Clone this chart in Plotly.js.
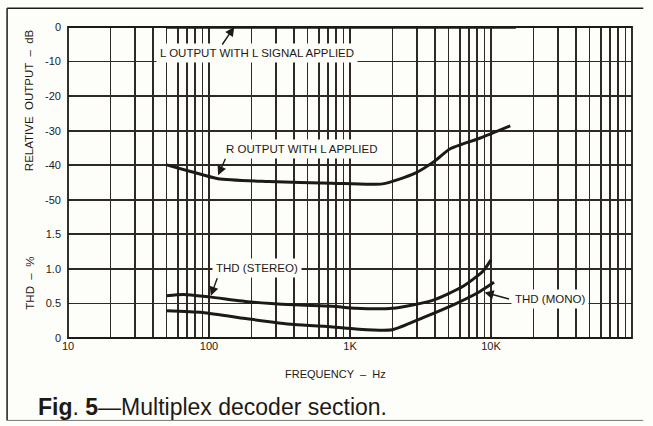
<!DOCTYPE html>
<html>
<head>
<meta charset="utf-8">
<script src="https://cdn.plot.ly/plotly-3.0.1.min.js"></script>
<style>
html,body{margin:0;padding:0;background:#fdfdf9;}
#chart{width:653px;height:426px;}
</style>
</head>
<body>
<div id="chart"></div>
<script>
// ---- data ----
const gridFreqs = [10,20,30,40,50,60,70,80,90,100,200,300,400,500,600,700,800,900,
  1000,2000,3000,4000,5000,6000,7000,8000,9000,10000,20000,30000,40000,50000,60000,70000,80000,90000,100000];
const freqLabels = {10:'10',100:'100',1000:'1K',10000:'10K'};

const dbTickVals = [-50,-40,-30,-20,-10,0];
const dbTickText = ['-50','-40','-30','-20','-10','0'];
const thdTickVals = [0,0.5,1.0,1.5];
const thdTickText = ['0','0.5','1.0','1.5'];

// L output with L signal applied (dB)
const lOutFreq = [50, 15000];
const lOutDb   = [0, 0];

// R output with L applied (dB)
const rOutFreq = [50, 74, 116, 264, 744, 1700, 2900, 4050, 5100, 8300, 13700];
const rOutDb   = [-39.9, -41.8, -43.9, -44.7, -45.2, -45.4, -42.3, -38.6, -35.3, -32.2, -28.6];

// THD (stereo) %
const thdStFreq = [50, 66, 100, 200, 400, 750, 1100, 2000, 3850, 6300, 8800, 10000];
const thdSt     = [0.61, 0.63, 0.595, 0.52, 0.48, 0.46, 0.43, 0.43, 0.545, 0.745, 0.97, 1.13];

// THD (mono) %
const thdMoFreq = [50, 90, 200, 400, 750, 1100, 2000, 3300, 5600, 8300, 10500];
const thdMo     = [0.395, 0.37, 0.27, 0.195, 0.16, 0.13, 0.12, 0.295, 0.495, 0.67, 0.805];

// ---- styling ----
const INK = '#1d1a16';
const GRID = '#2e2a23';
const BG = '#fdfdf9';
const FONT = 'Liberation Sans, Arial, Helvetica, sans-serif';

const curve = (x, y, yaxis) => ({
  x: x, y: y, yaxis: yaxis, type: 'scatter', mode: 'lines',
  line: {color: INK, width: 3, shape: 'spline', smoothing: 0.6},
  cliponaxis: false, hoverinfo: 'skip', showlegend: false
});

const traces = [
  Object.assign(curve(lOutFreq, lOutDb, 'y2'), {line: {color: INK, width: 3.5}}),
  curve(rOutFreq, rOutDb, 'y2'),
  curve(thdStFreq, thdSt, 'y'),
  curve(thdMoFreq, thdMo, 'y')
];

const lg = Math.log10;
const labelFont = {family: FONT, size: 11.5, color: INK};

function label(text, xf, y, yref) {
  return {text: text, x: lg(xf), y: y, xref: 'x', yref: yref, showarrow: false,
    font: labelFont, bgcolor: BG, borderpad: 3, xanchor: 'center', yanchor: 'middle'};
}
function arrow(xf, y, yref, ax, ay) {
  return {text: '', x: lg(xf), y: y, xref: 'x', yref: yref, showarrow: true,
    ax: ax, ay: ay, arrowhead: 2, arrowsize: 1.3, arrowwidth: 1.4, arrowcolor: INK, standoff: 0};
}
function paperText(text, x, y, size, extra) {
  return Object.assign({text: text, xref: 'paper', yref: 'paper', x: x, y: y,
    xanchor: 'center', yanchor: 'middle', showarrow: false,
    font: {family: FONT, size: size, color: INK}}, extra || {});
}

const annotations = [
  label('L OUTPUT WITH L SIGNAL APPLIED', 220, -7.5, 'y2'),
  label('R OUTPUT WITH L APPLIED', 454, -35.3, 'y2'),
  label('THD (STEREO)', 220, 1.02, 'y'),
  label('THD (MONO)', 26300, 0.57, 'y'),
  arrow(151, 0, 'y2', -13, 19),
  arrow(116, -42.9, 'y2', 8, -18),
  arrow(103, 0.61, 'y', 7, -19),
  arrow(9000, 0.66, 'y', 26, 7),
  // axis titles
  paperText('RELATIVE  OUTPUT  –  dB', -0.069, 0.765, 11.5, {textangle: -90}),
  paperText('THD  –  %', -0.069, 0.175, 11.5, {textangle: -90}),
  paperText('FREQUENCY  –  Hz', 0.475, -0.116, 11),
  paperText('<b>Fig</b>. <b>5</b>—Multiplex decoder section.', -0.057, -0.222, 23, {xanchor: 'left'})
];

const shapes = [
  {type: 'line', xref: 'paper', yref: 'paper', x0: -0.108, x1: 1.02, y0: 1.06, y1: 1.06,
   line: {color: INK, width: 1.5}},
  {type: 'line', xref: 'paper', yref: 'paper', x0: -0.108, x1: -0.108, y0: 1.06, y1: -0.265,
   line: {color: INK, width: 1.5}},
  {type: 'line', xref: 'paper', yref: 'paper', x0: -0.108, x1: 1.02, y0: -0.265, y1: -0.265,
   line: {color: '#777', width: 1}},
  {type: 'rect', xref: 'paper', yref: 'paper', x0: 0, x1: 1, y0: 0, y1: 1,
   line: {color: INK, width: 1.8}}
];

const axisCommon = {
  showgrid: true, gridcolor: GRID, gridwidth: 1.8,
  zeroline: false, showline: false, ticks: '',
  tickfont: {family: FONT, size: 11, color: INK}
};

const layout = {
  width: 653, height: 426,
  margin: {l: 68, r: 21, t: 27, b: 88},
  paper_bgcolor: BG, plot_bgcolor: BG,
  font: {family: FONT, size: 11, color: INK},
  showlegend: false,
  xaxis: Object.assign({
    type: 'log', range: [1, 5],
    tickvals: gridFreqs,
    ticktext: gridFreqs.map(f => freqLabels[f] || '')
  }, axisCommon),
  yaxis: Object.assign({
    range: [0, 4.5], tickvals: thdTickVals, ticktext: thdTickText, ticklabelstandoff: 6
  }, axisCommon),
  yaxis2: Object.assign({
    overlaying: 'y', side: 'left', range: [-90, 0],
    tickvals: dbTickVals, ticktext: dbTickText, ticklabelstandoff: 6
  }, axisCommon),
  annotations: annotations,
  shapes: shapes
};

Plotly.newPlot('chart', traces, layout, {displayModeBar: false, staticPlot: true});
</script>
</body>
</html>
